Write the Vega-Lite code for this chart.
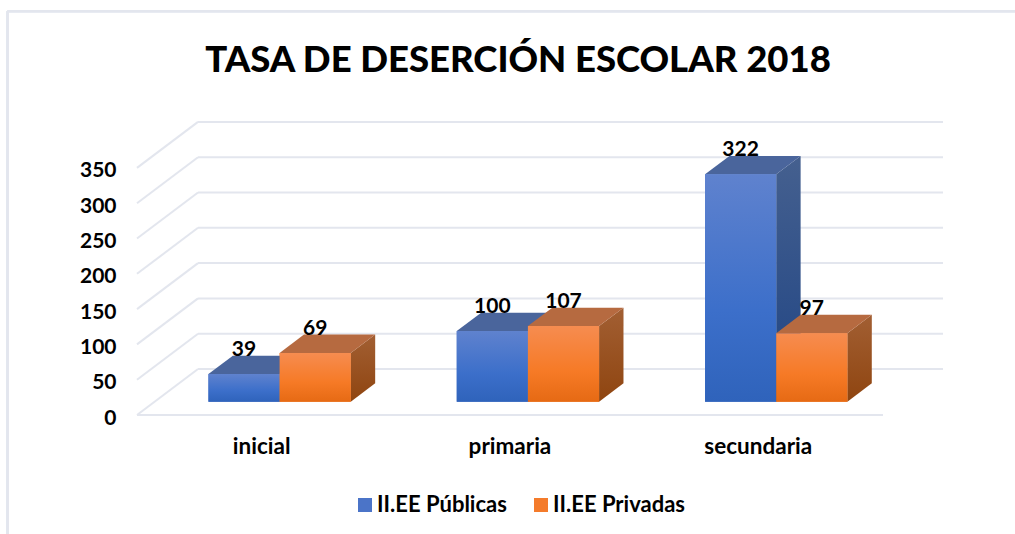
{
"$schema":"https://vega.github.io/schema/vega-lite/v6.json",
"width":806,"height":293,
"autosize":{"type":"none"},
"padding":{"left":137,"top":122,"right":72,"bottom":119},
"background":"white",
"config":{"view":{"stroke":null},"font":"Lato"},
"title":{"text":"TASA DE DESERCIÓN ESCOLAR 2018","font":"Lato","fontWeight":900,"fontSize":36.5,"color":"#000000","anchor":"middle","dx":-22,"offset":-69},
"resolve":{"axis":{"x":"independent","y":"independent"}},
"data":{"values":[
{"categoria":"inicial","serie":"II.EE Públicas","valor":39},
{"categoria":"inicial","serie":"II.EE Privadas","valor":69},
{"categoria":"primaria","serie":"II.EE Públicas","valor":100},
{"categoria":"primaria","serie":"II.EE Privadas","valor":107},
{"categoria":"secundaria","serie":"II.EE Públicas","valor":322},
{"categoria":"secundaria","serie":"II.EE Privadas","valor":97}
]},
"transform":[
{"calculate":"indexof(['inicial','primaria','secundaria'],datum.categoria)+0.5","as":"g"},
{"calculate":"datum.serie==='II.EE Públicas'?-1:0","as":"s"},
{"calculate":"datum.g+datum.s*0.2866+0.0743","as":"x0"},
{"calculate":"datum.x0+0.2866","as":"x1"},
{"calculate":"datum.x0+0.1433","as":"xm"},
{"calculate":"18.9","as":"y0"},
{"calculate":"datum.valor+18.9","as":"yt"}
],
"layer":[
{"data":{"values":[{"v":0},{"v":50},{"v":100},{"v":150},{"v":200},{"v":250},{"v":300},{"v":350}]},
 "transform":[{"calculate":"0","as":"xa"},{"calculate":"0.2457","as":"xb"},{"calculate":"datum.v+65.15","as":"vb"}],
 "mark":{"type":"rule","color":"#E3E6EE","strokeWidth":2},
 "encoding":{"x":{"field":"xa","type":"quantitative","axis":null,"scale":{"domain":[0,3.246],"nice":false,"zero":false}},"x2":{"field":"xb"},"y":{"field":"v","type":"quantitative","axis":null,"scale":{"domain":[0,415],"nice":false,"zero":false}},"y2":{"field":"vb"}}},
{"data":{"values":[{"v":0},{"v":50},{"v":100},{"v":150},{"v":200},{"v":250},{"v":300},{"v":350}]},
 "transform":[{"calculate":"0.2457","as":"xa"},{"calculate":"3.246","as":"xb"},{"calculate":"datum.v+65.15","as":"vb"}],
 "mark":{"type":"rule","color":"#E3E6EE","strokeWidth":2},
 "encoding":{"x":{"field":"xa","type":"quantitative","axis":null},"x2":{"field":"xb"},"y":{"field":"vb","type":"quantitative","axis":null}}},
{"mark":{"type":"rule","color":"#E3E6EE","strokeWidth":2},
 "encoding":{"x":{"datum":0,"type":"quantitative","axis":null},"x2":{"datum":3.003},"y":{"datum":0,"type":"quantitative","axis":null}}},
{"mark":{"type":"rule","color":"#E3E6EE","strokeWidth":2},
 "encoding":{"x":{"datum":-0.5215,"type":"quantitative","axis":null},"y":{"datum":572,"type":"quantitative","axis":null},"y2":{"datum":-168.6}}},
{"mark":{"type":"rule","color":"#E3E6EE","strokeWidth":2},
 "encoding":{"x":{"datum":-0.5215,"type":"quantitative","axis":null},"x2":{"datum":3.54},"y":{"datum":572,"type":"quantitative","axis":null}}},
{"mark":{"type":"rect"},
 "encoding":{
  "x":{"field":"x0","type":"quantitative","axis":{"orient":"bottom","values":[0.5,1.5,2.5],"labelExpr":"['inicial','primaria','secundaria'][datum.value-0.5]","title":null,"domain":false,"ticks":false,"grid":false,"labelFont":"Lato","labelFontWeight":"bold","labelFontSize":22.5,"labelColor":"#000000","labelPadding":20}},
  "x2":{"field":"x1"},
  "y":{"field":"y0","type":"quantitative","axis":{"orient":"left","values":[0,50,100,150,200,250,300,350],"title":null,"domain":false,"ticks":false,"grid":false,"labelFont":"Lato","labelFontWeight":"bold","labelFontSize":21,"labelColor":"#000000","labelPadding":21,"labelOffset":3}},
  "y2":{"field":"yt"},
  "color":{"field":"serie","type":"nominal","scale":{"domain":["II.EE Públicas","II.EE Privadas"],"range":["#4B74C8","#F47B2B"]},
   "legend":{"title":null,"orient":"none","direction":"horizontal","legendX":217,"legendY":372,"symbolType":"square","symbolSize":196,"symbolStrokeWidth":0,"symbolOpacity":1,"labelFont":"Lato","labelFontWeight":"bold","labelFontSize":22,"labelColor":"#000000","columnPadding":23,"labelOffset":1}}
 }},
{"transform":[{"filter":"datum.s===-1"},{"calculate":"[0,1]","as":"p"},{"flatten":["p"]},{"calculate":"datum.x1+datum.p*0.0983","as":"px"},{"calculate":"datum.y0+datum.p*26","as":"plo"},{"calculate":"datum.yt+datum.p*26","as":"phi"}],
 "mark":{"type":"area","orient":"vertical","fill":{"gradient":"linear","x1":0,"y1":0,"x2":0,"y2":1,"stops":[{"offset":0,"color":"#45608F"},{"offset":1,"color":"#1F4484"}]}},
 "encoding":{"x":{"field":"px","type":"quantitative","axis":null},"y":{"field":"phi","type":"quantitative","axis":null,"stack":null},"y2":{"field":"plo"},"detail":{"field":"categoria"}}},
{"transform":[{"filter":"datum.s===-1"},{"calculate":"[0,1]","as":"p"},{"flatten":["p"]},{"calculate":"datum.x0+datum.p*0.0983","as":"pl"},{"calculate":"datum.x1+datum.p*0.0983","as":"pr"},{"calculate":"datum.yt+datum.p*26","as":"pt"}],
 "mark":{"type":"area","orient":"horizontal","fill":"#4A659C"},
 "encoding":{"y":{"field":"pt","type":"quantitative","axis":null},"x":{"field":"pl","type":"quantitative","axis":null,"stack":null},"x2":{"field":"pr"},"detail":{"field":"categoria"}}},
{"transform":[{"filter":"datum.s===-1"}],
 "mark":{"type":"rect","fill":{"gradient":"linear","x1":0,"y1":0,"x2":0,"y2":1,"stops":[{"offset":0,"color":"#5F82CE"},{"offset":0.6,"color":"#3C6FCA"},{"offset":1,"color":"#2F63BB"}]}},
 "encoding":{"x":{"field":"x0","type":"quantitative","axis":null},"x2":{"field":"x1"},"y":{"field":"y0","type":"quantitative","axis":null},"y2":{"field":"yt"}}},
{"transform":[{"filter":"datum.s===0"},{"calculate":"[0,1]","as":"p"},{"flatten":["p"]},{"calculate":"datum.x1+datum.p*0.0983","as":"px"},{"calculate":"datum.y0+datum.p*26","as":"plo"},{"calculate":"datum.yt+datum.p*26","as":"phi"}],
 "mark":{"type":"area","orient":"vertical","fill":{"gradient":"linear","x1":0,"y1":0,"x2":0,"y2":1,"stops":[{"offset":0,"color":"#A25F33"},{"offset":1,"color":"#8F4510"}]}},
 "encoding":{"x":{"field":"px","type":"quantitative","axis":null},"y":{"field":"phi","type":"quantitative","axis":null,"stack":null},"y2":{"field":"plo"},"detail":{"field":"categoria"}}},
{"transform":[{"filter":"datum.s===0"},{"calculate":"[0,1]","as":"p"},{"flatten":["p"]},{"calculate":"datum.x0+datum.p*0.0983","as":"pl"},{"calculate":"datum.x1+datum.p*0.0983","as":"pr"},{"calculate":"datum.yt+datum.p*26","as":"pt"}],
 "mark":{"type":"area","orient":"horizontal","fill":"#B66A40"},
 "encoding":{"y":{"field":"pt","type":"quantitative","axis":null},"x":{"field":"pl","type":"quantitative","axis":null,"stack":null},"x2":{"field":"pr"},"detail":{"field":"categoria"}}},
{"transform":[{"filter":"datum.s===0"}],
 "mark":{"type":"rect","fill":{"gradient":"linear","x1":0,"y1":0,"x2":0,"y2":1,"stops":[{"offset":0,"color":"#F68C50"},{"offset":0.6,"color":"#F67A26"},{"offset":1,"color":"#E66A14"}]}},
 "encoding":{"x":{"field":"x0","type":"quantitative","axis":null},"x2":{"field":"x1"},"y":{"field":"y0","type":"quantitative","axis":null},"y2":{"field":"yt"}}},
{"mark":{"type":"text","font":"Lato","fontWeight":"bold","fontSize":21,"color":"#000000","baseline":"middle","align":"center","dy":-24},
 "encoding":{"x":{"field":"xm","type":"quantitative","axis":null},"y":{"field":"yt","type":"quantitative","axis":null},"text":{"field":"valor","type":"quantitative"}}}
]
}
